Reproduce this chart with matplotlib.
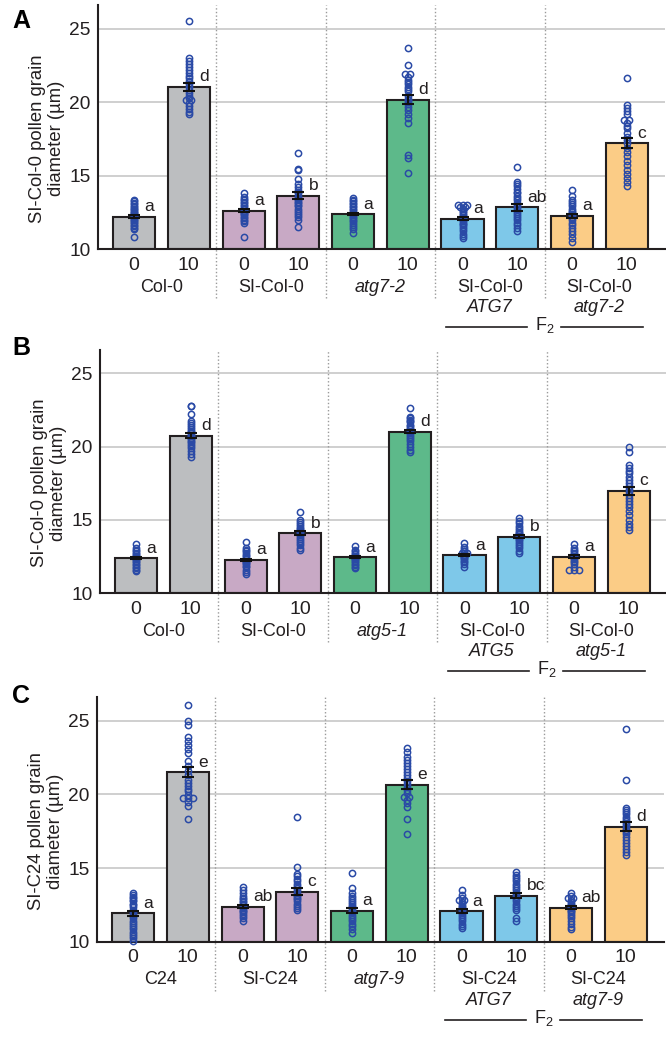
import numpy as np
import matplotlib
matplotlib.use("Agg")
import matplotlib.pyplot as plt

plt.rcParams['font.family'] = ['Liberation Sans', 'DejaVu Sans']
plt.rcParams['mathtext.fontset'] = 'custom'
plt.rcParams['mathtext.rm'] = 'Liberation Sans'
plt.rcParams['mathtext.it'] = 'Liberation Sans:italic'

# ---------------- data ----------------
dose_labels = ['0', '10'] * 5
bar_colors = ['#bcbec0', '#c8a9c5', '#5db98a', '#7ec8e9', '#fbcc86']

groupsA_line1 = ['Col-0', 'SI-Col-0', 'atg7-2', 'SI-Col-0', 'SI-Col-0']
groupsA_line2 = ['', '', '', 'ATG7', 'atg7-2']
groupsB_line1 = ['Col-0', 'SI-Col-0', 'atg5-1', 'SI-Col-0', 'SI-Col-0']
groupsB_line2 = ['', '', '', 'ATG5', 'atg5-1']
groupsC_line1 = ['C24', 'SI-C24', 'atg7-9', 'SI-C24', 'SI-C24']
groupsC_line2 = ['', '', '', 'ATG7', 'atg7-9']
line1_italic = [False, False, True, False, False]

ylabelA = 'SI-Col-0 pollen grain\ndiameter (µm)'
ylabelB = 'SI-Col-0 pollen grain\ndiameter (µm)'
ylabelC = 'SI-C24 pollen grain\ndiameter (µm)'

meansA = [12.2, 21.05, 12.6, 13.62, 12.38, 20.16, 12.07, 12.84, 12.25, 17.2]
semsA = [0.1, 0.27, 0.1, 0.25, 0.08, 0.32, 0.1, 0.25, 0.15, 0.34]
lettersA = ['a', 'd', 'a', 'b', 'a', 'd', 'a', 'ab', 'a', 'c']

meansB = [12.39, 20.75, 12.27, 14.09, 12.45, 21.02, 12.57, 13.84, 12.48, 16.98]
semsB = [0.07, 0.15, 0.08, 0.12, 0.06, 0.12, 0.07, 0.1, 0.1, 0.28]
lettersB = ['a', 'd', 'a', 'b', 'a', 'd', 'a', 'b', 'a', 'c']

meansC = [11.95, 21.5, 12.4, 13.42, 12.13, 20.65, 12.08, 13.15, 12.33, 17.82]
semsC = [0.18, 0.35, 0.1, 0.23, 0.17, 0.3, 0.13, 0.2, 0.1, 0.3]
lettersC = ['a', 'e', 'ab', 'c', 'a', 'e', 'a', 'bc', 'ab', 'd']

pointsA = [
    [13.35, 13.25, 13.15, 13.05, 12.95, 12.85, 12.75, 12.7, 12.6, 12.5, 12.45, 12.4, 12.3,
     12.25, 12.2, 12.1, 12.0, 11.95, 11.85, 11.75, 11.65, 11.55, 11.45, 11.35, 10.85],
    [25.5, 23.0, 22.8, 22.6, 22.4, 22.2, 22.0, 21.8, 21.6, 21.4, 21.2, 21.0, 20.8, 20.6,
     20.4, 20.3, 20.15, 20.15, 19.95, 19.75, 19.55, 19.35, 19.2],
    [13.8, 13.55, 13.4, 13.3, 13.2, 13.1, 13.0, 12.9, 12.8, 12.75, 12.7, 12.6, 12.5, 12.45,
     12.4, 12.3, 12.2, 12.1, 12.0, 11.9, 11.8, 10.8],
    [16.5, 15.45, 15.4, 14.75, 14.4, 14.2, 14.0, 13.9, 13.8, 13.6, 13.5, 13.4, 13.3, 13.2,
     13.1, 13.0, 12.9, 12.75, 12.6, 12.45, 12.3, 12.15, 12.0, 11.5],
    [13.45, 13.35, 13.25, 13.15, 13.05, 12.95, 12.85, 12.75, 12.65, 12.55, 12.45, 12.4,
     12.3, 12.2, 12.1, 12.0, 11.9, 11.8, 11.65, 11.5, 11.35, 11.1],
    [23.7, 22.55, 21.9, 21.9, 21.7, 21.5, 21.35, 21.2, 21.05, 20.9, 20.75, 20.4, 20.2,
     20.15, 20.0, 19.85, 19.65, 19.45, 19.2, 18.9, 18.6, 16.4, 16.2, 15.2],
    [13.0, 13.0, 13.0, 12.85, 12.85, 12.7, 12.6, 12.5, 12.4, 12.3, 12.2, 12.1, 12.0, 11.9,
     11.8, 11.7, 11.6, 11.5, 11.35, 11.2, 11.05, 10.9, 10.75],
    [15.6, 14.55, 14.45, 14.3, 14.1, 13.9, 13.8, 13.6, 13.45, 13.3, 13.15, 13.0, 12.85,
     12.7, 12.55, 12.4, 12.25, 12.1, 11.95, 11.8, 11.6, 11.45, 11.25],
    [14.0, 13.6, 13.35, 13.2, 13.05, 12.9, 12.75, 12.6, 12.5, 12.4, 12.3, 12.2, 12.1,
     11.95, 11.8, 11.6, 11.4, 11.2, 11.0, 10.75, 10.45],
    [21.65, 19.8, 19.6, 19.4, 19.2, 18.8, 18.8, 18.6, 18.4, 18.2, 17.9, 17.6, 17.4, 17.2,
     16.9, 16.6, 16.3, 16.0, 15.7, 15.4, 15.1, 14.8, 14.55, 14.3],
]

pointsB = [
    [13.35, 13.1, 12.95, 12.85, 12.75, 12.65, 12.55, 12.5, 12.45, 12.4, 12.35, 12.3, 12.2,
     12.1, 12.0, 11.9, 11.8, 11.7, 11.6, 11.5],
    [22.8, 22.75, 22.2, 21.75, 21.6, 21.5, 21.35, 21.2, 21.1, 21.0, 20.9, 20.8, 20.7, 20.6,
     20.5, 20.4, 20.3, 20.2, 20.05, 19.9, 19.7, 19.5, 19.3],
    [13.5, 13.1, 12.95, 12.85, 12.75, 12.6, 12.5, 12.4, 12.3, 12.2, 12.15, 12.05, 11.95,
     11.85, 11.75, 11.6, 11.45, 11.3],
    [15.55, 15.0, 14.85, 14.7, 14.55, 14.45, 14.35, 14.25, 14.15, 14.05, 13.95, 13.85,
     13.7, 13.55, 13.4, 13.25, 13.1, 12.95],
    [13.2, 12.95, 12.85, 12.75, 12.65, 12.55, 12.5, 12.45, 12.4, 12.35, 12.3, 12.2, 12.1,
     12.0, 11.9, 11.8, 11.7],
    [22.65, 22.05, 21.95, 21.85, 21.75, 21.65, 21.5, 21.4, 21.3, 21.2, 21.1, 21.0, 20.9,
     20.8, 20.65, 20.5, 20.35, 20.2, 20.0, 19.8, 19.6],
    [13.4, 13.15, 13.0, 12.9, 12.85, 12.75, 12.7, 12.7, 12.6, 12.55, 12.5, 12.45, 12.4,
     12.3, 12.2, 12.1, 11.95, 11.8],
    [15.1, 14.9, 14.75, 14.6, 14.45, 14.3, 14.2, 14.1, 14.0, 13.9, 13.8, 13.7, 13.6, 13.5,
     13.35, 13.2, 13.05, 12.9, 12.75],
    [13.35, 13.1, 12.95, 12.85, 12.75, 12.65, 12.55, 12.45, 12.4, 12.3, 12.2, 12.1, 11.95,
     11.8, 11.55, 11.55, 11.55],
    [19.95, 19.65, 18.75, 18.55, 18.35, 18.2, 17.95, 17.7, 17.5, 17.3, 17.1, 16.9, 16.7,
     16.5, 16.3, 16.1, 15.9, 15.6, 15.3, 15.0, 14.7, 14.5, 14.3],
]

pointsC = [
    [13.35, 13.2, 13.05, 12.95, 12.85, 12.75, 12.6, 12.5, 12.35, 12.2, 12.05, 11.9, 11.75,
     11.6, 11.45, 11.3, 11.15, 11.0, 10.85, 10.7, 10.55, 10.4, 10.25, 10.1],
    [26.05, 24.95, 24.7, 23.9, 23.6, 23.35, 23.1, 22.8, 22.25, 21.95, 21.6, 21.3, 21.0,
     20.8, 20.6, 20.4, 20.2, 19.95, 19.75, 19.75, 19.75, 19.5, 19.2, 18.3],
    [13.75, 13.5, 13.3, 13.15, 13.0, 12.9, 12.8, 12.7, 12.6, 12.5, 12.4, 12.3, 12.2, 12.1,
     12.0, 11.9, 11.75, 11.6, 11.4],
    [18.45, 15.05, 14.6, 14.45, 14.25, 14.1, 13.95, 13.8, 13.65, 13.5, 13.35, 13.2, 13.1,
     13.0, 12.9, 12.75, 12.6, 12.45, 12.3, 12.2],
    [14.7, 13.65, 13.35, 13.15, 13.0, 12.85, 12.7, 12.55, 12.45, 12.35, 12.25, 12.1, 12.0,
     11.85, 11.7, 11.55, 11.4, 11.25, 11.1, 10.9, 10.6],
    [23.15, 22.85, 22.55, 22.3, 22.1, 21.9, 21.7, 21.5, 21.3, 21.1, 20.9, 20.7, 20.5, 20.3,
     20.1, 19.8, 19.8, 19.6, 19.4, 19.15, 18.3, 17.3],
    [13.5, 13.2, 13.0, 12.85, 12.85, 12.7, 12.55, 12.45, 12.35, 12.25, 12.15, 12.05, 11.95,
     11.85, 11.7, 11.55, 11.4, 11.25, 11.1, 10.95],
    [14.75, 14.55, 14.4, 14.25, 14.1, 13.95, 13.8, 13.65, 13.5, 13.35, 13.2, 13.05, 12.9,
     12.75, 12.6, 12.45, 12.3, 12.15, 11.6, 11.4],
    [13.35, 13.15, 13.0, 13.0, 12.85, 12.7, 12.6, 12.5, 12.4, 12.3, 12.2, 12.1, 12.0, 11.9,
     11.75, 11.6, 11.45, 11.25, 11.05, 10.9],
    [24.4, 21.0, 19.1, 18.95, 18.8, 18.65, 18.5, 18.35, 18.2, 18.05, 17.9, 17.75, 17.6,
     17.45, 17.3, 17.1, 16.9, 16.7, 16.5, 16.3, 16.1, 15.9],
]

# ---------------- figure ----------------
W, H = 666, 1037
fig = plt.figure(figsize=(W / 100, H / 100), dpi=100)

TXT = '#231f20'
PT_COLOR = '#2a4aa6'
XMIN, XMAX = -0.66, 9.7
YMIN, YMAX = 10, 26.6


def dodge(vals, step=0.09):
    vals = np.asarray(vals, dtype=float)
    offs = np.zeros(len(vals))
    for v in np.unique(vals):
        idx = np.where(vals == v)[0]
        k = len(idx)
        offs[idx] = (np.arange(k) - (k - 1) / 2) * step
    return offs


def panel(left_px, bottom_px, top_px, means, sems, points, letters, g1, g2,
          ylabel, tag, tag_y):
    width_px = 567
    h_px = bottom_px - top_px
    ax = fig.add_axes([left_px / W, 1 - bottom_px / H, width_px / W, h_px / H])
    x = np.arange(len(means))
    cols = [c for c in bar_colors for _ in range(2)]

    ax.set_xlim(XMIN, XMAX)
    ax.set_ylim(YMIN, YMAX)
    ax.set_yticks([10, 15, 20, 25])
    for gv in [15, 20, 25]:
        ax.axhline(gv, color='#c2c2c2', lw=1.1, zorder=0)

    ax.bar(x, np.array(means) - YMIN, bottom=YMIN, width=0.77, color=cols,
           edgecolor=TXT, linewidth=1.5, zorder=2)
    for i, pts in enumerate(points):
        ax.plot(x[i] + dodge(pts), pts, 'o', mfc='none', mec=PT_COLOR, ms=4.5,
                mew=1.1, zorder=3, clip_on=False)
    ax.errorbar(x, means, yerr=sems, fmt='none', ecolor='#111111', elinewidth=1.5,
                capsize=4.6, capthick=1.5, zorder=4)
    for i, lt in enumerate(letters):
        ax.text(x[i] + 0.19, means[i] + 0.68, lt, ha='left', va='center',
                fontsize=12.5, color=TXT, zorder=5)

    for s in ['top', 'right']:
        ax.spines[s].set_visible(False)
    for s in ['left', 'bottom']:
        ax.spines[s].set_linewidth(1.5)
        ax.spines[s].set_color(TXT)
    ax.tick_params(axis='y', length=0, pad=5.5, labelsize=13.8, labelcolor=TXT)
    ax.set_xticks([])

    tr = ax.get_xaxis_transform()
    # separators
    for sx in [1.5, 3.5, 5.5, 7.5]:
        ax.plot([sx, sx], [-49 / h_px, 1], transform=tr, clip_on=False,
                color='#9a9a9a', lw=1.0, ls=(0, (1, 1.6)), zorder=1)

    def below(xv, px, s, **kw):
        ax.annotate(s, xy=(xv, 0), xycoords=tr, xytext=(0, -px * 0.72),
                    textcoords='offset points', ha='center', va='center',
                    annotation_clip=False, color=TXT, **kw)

    for i in x:
        below(i, 16, dose_labels[i], fontsize=14)
    for j in range(5):
        below(2 * j + 0.5, 38, g1[j], fontsize=13,
              style='italic' if line1_italic[j] else 'normal')
        if g2[j]:
            below(2 * j + 0.5, 59, g2[j], fontsize=13, style='italic')

    yf = -78 / h_px
    ax.plot([5.69, 7.18], [yf, yf], transform=tr, clip_on=False, color=TXT, lw=1.2)
    ax.plot([7.8, 9.3], [yf, yf], transform=tr, clip_on=False, color=TXT, lw=1.2)
    ax.annotate(r'F$_{\mathregular{2}}$', xy=(7.5, 0), xycoords=tr,
                xytext=(0, -81 * 0.72), textcoords='offset points', ha='center',
                va='baseline', fontsize=13, color=TXT, annotation_clip=False)

    ycen = (17.5 - YMIN) / (YMAX - YMIN)
    ax.text(-0.09, ycen, ylabel, transform=ax.transAxes, rotation=90,
            ha='center', va='center', multialignment='center', fontsize=13.3,
            linespacing=1.2, color=TXT)
    fig.text(12 / W, 1 - tag_y / H, tag, fontsize=18, fontweight='bold',
             ha='left', va='center', color='black')
    return ax


panel(98, 249, 5, meansA, semsA, pointsA, lettersA, groupsA_line1, groupsA_line2,
      ylabelA, 'A', 21)
panel(100, 593, 350, meansB, semsB, pointsB, lettersB, groupsB_line1, groupsB_line2,
      ylabelB, 'B', 348)
panel(97, 942, 697, meansC, semsC, pointsC, lettersC, groupsC_line1, groupsC_line2,
      ylabelC, 'C', 696)

fig.savefig('out.png', dpi=100)
